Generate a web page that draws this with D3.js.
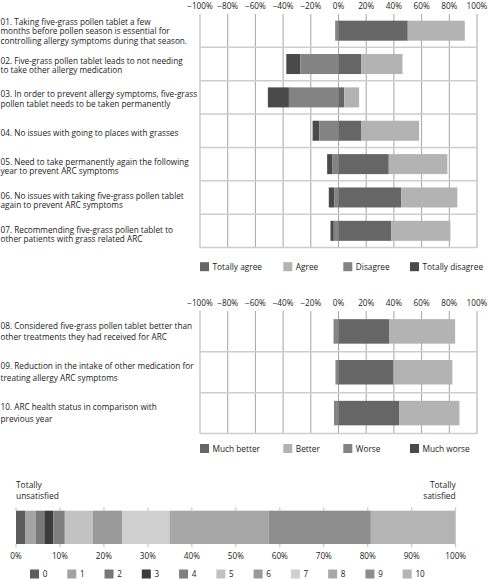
<!DOCTYPE html>
<html><head><meta charset="utf-8">
<script src="https://cdn.jsdelivr.net/npm/d3@7"></script>
<style>
body{margin:0;background:#fff}
svg{display:block}
text{font-family:"Open Sans",sans-serif;fill:#1a1a1a}
</style>
</head><body><svg id="c" width="488" height="579"></svg>
<script>
// ---------- DATA ----------
const topLabels = [
  "01. Taking five-grass pollen tablet a few\nmonths before pollen season is essential for\ncontrolling allergy symptoms during that season.",
  "02. Five-grass pollen tablet leads to not needing\nto take other allergy medication",
  "03. In order to prevent allergy symptoms, five-grass\npollen tablet needs to be taken permanently",
  "04. No issues with going to places with grasses",
  "05. Need to take permanently again the following\nyear to prevent ARC symptoms",
  "06. No issues with taking five-grass pollen tablet\nagain to prevent ARC symptoms",
  "07. Recommending five-grass pollen tablet to\nother patients with grass related ARC"
];
const topTotallyDisagree = [0, 10.1, 15.2, 4.8, 3.6, 3.9, 2.4];
const topDisagree        = [2.4, 27.6, 35.8, 13.9, 4.6, 3.1, 3.4];
const topTotallyAgree    = [50.0, 16.3, 4.1, 16.6, 36.3, 45.2, 38.2];
const topAgree           = [41.2, 29.9, 10.8, 41.6, 42.3, 40.6, 42.6];
const topLegend = ["Totally agree", "Agree", "Disagree", "Totally disagree"];

const midLabels = [
  "08. Considered five-grass pollen tablet better than\nother treatments they had received for ARC",
  "09. Reduction in the intake of other medication for\ntreating allergy ARC symptoms",
  "10. ARC health status in comparison with\nprevious year"
];
const midMuchWorse  = [0, 0, 0.5];
const midWorse      = [3.6, 2.2, 2.6];
const midMuchBetter = [36.8, 39.7, 44.0];
const midBetter     = [47.4, 42.5, 43.3];
const midLegend = ["Much better", "Better", "Worse", "Much worse"];

const divTicks = [-100, -80, -60, -40, -20, 0, 20, 40, 60, 80, 100];
const divTickLabels = ["\u2212100%", "\u221280%", "\u221260%", "\u221240%", "\u221220%", "0%", "20%", "40%", "60%", "80%", "100%"];

const satLevels = ["0", "1", "2", "3", "4", "5", "6", "7", "8", "9", "10"];
const satValues = [2.05, 2.4, 2.0, 2.05, 2.6, 6.4, 6.6, 10.8, 22.5, 23.3, 19.3];
const satTicks = [0, 10, 20, 30, 40, 50, 60, 70, 80, 90, 100];
const satTickLabels = ["0%", "10%", "20%", "30%", "40%", "50%", "60%", "70%", "80%", "90%", "100%"];

// ---------- STYLE ----------
const divColors = {TA: "#666666", A: "#b3b3b3", D: "#838383", TD: "#4a4a4a"};
const satColors = ["#5c5c5c", "#a3a3a3", "#787878", "#3c3c3c", "#7f7f7f", "#c2c2c2", "#999999", "#cfcfcf", "#a7a7a7", "#8d8d8d", "#b4b4b4"];

const svg = d3.select("#c");
const x = d3.scaleLinear().domain([-100, 100]).range([200, 477]);

function fitFont(lines, target, base) {
  const t = svg.append("text").style("font-size", base + "px");
  let w = 0;
  lines.forEach(l => { t.text(l); w = Math.max(w, t.node().getComputedTextLength()); });
  t.remove();
  return base * target / w;
}

function divergingPanel(opts) {
  const {labels, neg2, neg1, pos1, pos2, y0, y1, lineH, labelShift, labelDrift, labelFont, legend, legendY, tickY} = opts;
  const g = svg.append("g");
  const y = d3.scaleBand().domain(d3.range(labels.length)).range([y0, y1]).padding(0);
  // vertical gridlines
  g.selectAll("line.v").data(divTicks).join("line")
    .attr("x1", d => x(d)).attr("x2", d => x(d))
    .attr("y1", y0).attr("y2", y1)
    .attr("stroke", d => d === -100 ? "#cfcfcf" : "#9a9a9a")
    .attr("stroke-width", d => d === -100 ? 1.6 : 0.9);
  // horizontal separators
  g.selectAll("line.h").data(d3.range(1, labels.length + 1)).join("line")
    .attr("x1", x(-100)).attr("x2", x(100))
    .attr("y1", d => y0 + d * y.step()).attr("y2", d => y0 + d * y.step())
    .attr("stroke", "#cdcdcd").attr("stroke-width", 1.5);
  // tick labels
  g.selectAll("text.t").data(divTicks).join("text")
    .attr("x", d => x(d)).attr("y", tickY)
    .attr("text-anchor", "middle").style("font-size", "8.2px")
    .text((d, i) => divTickLabels[i]);
  // bars
  const bh = y.bandwidth() * 0.6;
  labels.forEach((_, i) => {
    const segs = [
      [-(neg1[i] + neg2[i]), -neg1[i], divColors.TD],
      [-neg1[i], 0, divColors.D],
      [0, pos1[i], divColors.TA],
      [pos1[i], pos1[i] + pos2[i], divColors.A]
    ];
    g.selectAll(null).data(segs.filter(s => s[1] > s[0])).join("rect")
      .attr("x", s => x(s[0])).attr("width", s => x(s[1]) - x(s[0]))
      .attr("y", y(i) + (y.bandwidth() - bh) / 2).attr("height", bh)
      .attr("fill", s => s[2]);
  });
  // labels
  labels.forEach((lab, i) => {
    const lines = lab.split("\n");
    const cy = y(i) + y.bandwidth() / 2 + labelShift + i * labelDrift;
    const t = g.append("text").style("font-size", labelFont + "px");
    lines.forEach((l, k) => {
      t.append("tspan").attr("x", 0.5)
        .attr("y", cy + (k - (lines.length - 1) / 2) * lineH + labelFont * 0.36)
        .text(l);
    });
  });
  // legend
  const lx = [200, 283.3, 343.3, 410];
  const lc = [divColors.TA, divColors.A, divColors.D, divColors.TD];
  legend.forEach((name, k) => {
    g.append("rect").attr("x", lx[k]).attr("y", legendY - 4.5).attr("width", 9).attr("height", 9).attr("fill", lc[k]);
    g.append("text").attr("x", lx[k] + 12.5).attr("y", legendY + 3.1).style("font-size", "8.3px").text(name);
  });
}

const labelFont = fitFont(["controlling allergy symptoms during that season."], 187, 10);

divergingPanel({labels: topLabels, neg2: topTotallyDisagree, neg1: topDisagree, pos1: topTotallyAgree, pos2: topAgree,
  y0: 14, y1: 247.5, lineH: 9.4, labelShift: 0.7, labelDrift: 0.5, labelFont, legend: topLegend, legendY: 266.7, tickY: 9});
divergingPanel({labels: midLabels, neg2: midMuchWorse, neg1: midWorse, pos1: midMuchBetter, pos2: midBetter,
  y0: 311, y1: 433.5, lineH: 11.7, labelShift: 0, labelDrift: 0, labelFont, legend: midLegend, legendY: 448.5, tickY: 306});

// ---------- satisfaction bar ----------
const xs = d3.scaleLinear().domain([0, 100]).range([16, 455.7]);
const gs = svg.append("g");
const cum = d3.cumsum(satValues);
const barY0 = 510.7, barY1 = 544;
gs.selectAll("rect").data(satValues).join("rect")
  .attr("x", (d, i) => xs(cum[i] - d)).attr("width", d => xs(d) - xs(0))
  .attr("y", barY0).attr("height", barY1 - barY0)
  .attr("fill", (d, i) => satColors[i]);
gs.selectAll("line.tt").data(satTicks).join("line")
  .attr("x1", d => xs(d)).attr("x2", d => xs(d)).attr("y1", barY0 - 3.3).attr("y2", barY0)
  .attr("stroke", "#aaa").attr("stroke-width", 0.8);
gs.selectAll("line.tb").data(satTicks).join("line")
  .attr("x1", d => xs(d)).attr("x2", d => xs(d)).attr("y1", barY1).attr("y2", barY1 + 3.3)
  .attr("stroke", "#aaa").attr("stroke-width", 0.8);
gs.selectAll("text.st").data(satTicks).join("text")
  .attr("x", d => xs(d)).attr("y", 559.2).attr("text-anchor", "middle").style("font-size", "8.2px")
  .text((d, i) => satTickLabels[i]);
const endLab = [["Totally", "unsatisfied", 16, "start"], ["Totally", "satisfied", 455.7, "end"]];
endLab.forEach(e => {
  const t = gs.append("text").attr("text-anchor", e[3]).style("font-size", "8.4px");
  t.append("tspan").attr("x", e[2]).attr("y", 488).text(e[0]);
  t.append("tspan").attr("x", e[2]).attr("y", 499).text(e[1]);
});
satLevels.forEach((lv, i) => {
  const lx = 30 + i * 37.27;
  gs.append("rect").attr("x", lx).attr("y", 569.5).attr("width", 9).attr("height", 9).attr("fill", satColors[i]);
  gs.append("text").attr("x", lx + 12.7).attr("y", 576.8).style("font-size", "8.1px").text(lv);
});
</script></body></html>
